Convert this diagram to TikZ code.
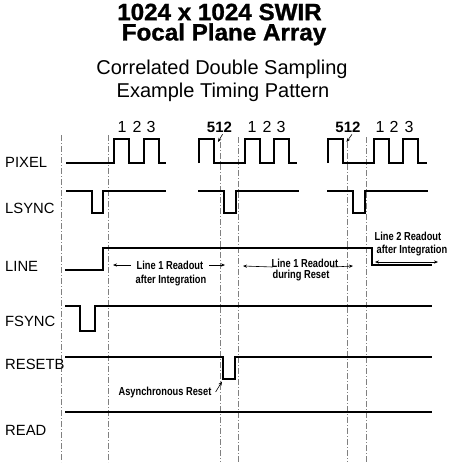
\documentclass[tikz,border=0pt]{standalone}
\usepackage{fontspec}
\setmainfont{Liberation Sans}
\newfontfamily\nb{Liberation Sans}[FakeStretch=0.8]
\newfontfamily\heavy{Liberation Sans}[FakeBold=1.2,FakeStretch=1.03]
\usetikzlibrary{arrows.meta}
\begin{document}
\begin{tikzpicture}[x=1pt,y=-1pt,
  sig/.style={line width=1.5pt, line join=miter},
  vgrid/.style={gray, line width=0.6pt, dash pattern=on 6pt off 2pt on 1pt off 2pt},
  lbl/.style={anchor=base west, inner sep=0, font=\fontsize{14.8}{15}\selectfont},
  num/.style={anchor=base, inner sep=0, font=\fontsize{16}{16}\selectfont},
  numb/.style={anchor=base, inner sep=0, font=\bfseries\fontsize{15}{15}\selectfont},
  ann/.style={anchor=base, inner sep=0, font=\nb\bfseries\fontsize{11.6}{12}\selectfont},
  arr/.style={line width=0.6pt, -{Stealth[length=4pt,width=3.2pt]}},
  title/.style={anchor=north, inner sep=0, align=center, font=\heavy\bfseries\fontsize{23.5}{20.3}\selectfont},
  subtitle/.style={anchor=base, inner sep=0, font=\fontsize{20}{20}\selectfont}]
\useasboundingbox (0,0) rectangle (449,464);

% titles
\node[title] (t1) at (219.5,3.5) {1024 x 1024 SWIR\\\hspace*{9pt}Focal Plane Array};
\node[subtitle] (s1) at (222,74) {Correlated Double Sampling};
\node[subtitle] (s2) at (223,97) {Example Timing Pattern};

% dash-dot vertical lines
\draw[vgrid] (61,135) -- (61,462);
\draw[vgrid] (108,135) -- (108,462);
\draw[vgrid] (220,142) -- (220,462);
\draw[vgrid] (238,137) -- (238,462);
\draw[vgrid] (347,142) -- (347,462);
\draw[vgrid] (366,137) -- (366,462);

% signal labels
\node[lbl] (lpix) at (5,167) {PIXEL};
\node[lbl] (llsync) at (5,213) {LSYNC};
\node[lbl] (lline) at (5,271) {LINE};
\node[lbl] (lfsync) at (5,326) {FSYNC};
\node[lbl] (lreset) at (5,369) {RESETB};
\node[lbl] (lread) at (5,435) {READ};

% PIXEL
\draw[sig] (66,163) -- (114,163) -- (114,139) -- (129,139) -- (129,163) -- (144,163) -- (144,139) -- (159,139) -- (159,163) -- (166,163);
\draw[sig] (199,163) -- (199,139) -- (214,139) -- (214,163) -- (245,163) -- (245,139) -- (260,139) -- (260,163) -- (274,163) -- (274,139) -- (289,139) -- (289,163) -- (297,163);
\draw[sig] (328,163) -- (328,139) -- (343,139) -- (343,163) -- (374,163) -- (374,139) -- (389,139) -- (389,163) -- (403,163) -- (403,139) -- (418,139) -- (418,163) -- (427,163);

\node[num] (n1a) at (122,132.5) {1};
\node[num] (n2a) at (137,132.5) {2};
\node[num] (n3a) at (151,132.5) {3};
\node[num] (n1b) at (252,132.5) {1};
\node[num] (n2b) at (267,132.5) {2};
\node[num] (n3b) at (281,132.5) {3};
\node[num] (n1c) at (380,132.5) {1};
\node[num] (n2c) at (394,132.5) {2};
\node[num] (n3c) at (409,132.5) {3};

\node[numb] (p512a) at (219.5,132) {512};
\node[numb] (p512b) at (348,132) {512};
\coordinate (e512a) at (218,142);
\coordinate (e512b) at (346.5,142);
\draw[arr] (p512a.south) ++(3,2) coordinate (s512a) (s512a) -- (e512a);
\draw[arr] (p512b.south) ++(4,2) coordinate (s512b) (s512b) -- (e512b);

% LSYNC
\draw[sig] (66,191) -- (92,191) -- (92,213) -- (103,213) -- (103,191) -- (166,191);
\draw[sig] (198,191) -- (224,191) -- (224,213) -- (236,213) -- (236,191) -- (299,191);
\draw[sig] (327,191) -- (353,191) -- (353,213) -- (365,213) -- (365,191) -- (428,191);

% LINE
\draw[sig] (65,270) -- (103,270) -- (103,248) -- (372,248) -- (372,265) -- (432,265);

\node[ann] (r1a) at (170,269) {Line 1 Readout};
\node[ann] (r1b) at (171,283) {after Integration};
\coordinate (r1l) at (113,265);
\coordinate (r1r) at (225,265);
\draw[arr] (r1a.west |- r1l) ++(-6,0) coordinate (r1ls) (r1ls) -- (r1l);
\draw[arr] (r1a.east |- r1r) ++(6,0) coordinate (r1rs) (r1rs) -- (r1r);

\node[ann] (r2a) at (305,267) {Line 1 Readout};
\node[ann] (r2b) at (301,278) {during Reset};
\coordinate (r2l) at (243,266);
\coordinate (r2r) at (353,266);
\draw[arr] (r2a.base west) ++(1,0) coordinate (r2ls) (r2ls) -- (r2l);
\draw[arr] (r2a.base east) ++(-6,0) coordinate (r2rs) (r2rs) -- (r2r);

\node[ann] (r3a) at (408,240) {Line 2 Readout};
\node[ann] (r3b) at (412,253.5) {after Integration};
\coordinate (r3l) at (375,262);
\coordinate (r3r) at (438,262);
\draw[line width=0.6pt, {Stealth[length=4pt,width=3.2pt]}-{Stealth[length=4pt,width=3.2pt]}] (r3l) -- (r3r);

% FSYNC
\draw[sig] (65,306) -- (80,306) -- (80,331) -- (95,331) -- (95,306) -- (432,306);

% RESETB
\draw[sig] (65,357) -- (223,357) -- (223,379) -- (235,379) -- (235,357) -- (432,357);
\node[ann] (async) at (165,395) {Asynchronous Reset};
\coordinate (asyncend) at (222,381.5);
\draw[arr] (async.base east) ++(4,-3) coordinate (asyncs) (asyncs) -- (asyncend);

% READ
\draw[sig] (65,412) -- (432,412);
\end{tikzpicture}
\end{document}
